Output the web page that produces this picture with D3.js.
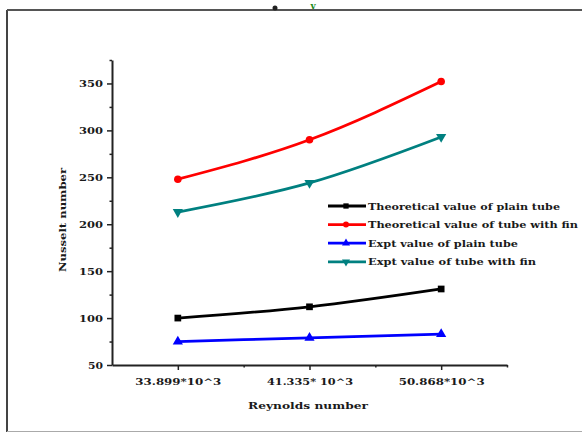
<!DOCTYPE html>
<html><head><meta charset="utf-8">
<script src="https://cdn.jsdelivr.net/npm/d3@7"></script>
<style>body{margin:0;background:#fff;} svg{display:block;} text{font-family:"DejaVu Serif",serif;font-weight:bold;fill:#1a1a1a;}</style>
</head><body><svg id="c" width="582" height="434"></svg>
<script>
const categories = ["33.899*10^3", "41.335* 10^3", "50.868*10^3"];
const theoPlain = [100, 112, 131];
const theoFin = [248, 290, 352];
const exptPlain = [75, 79, 83];
const exptFin = [213, 244, 293];
const yTicks = [50, 100, 150, 200, 250, 300, 350];
const seriesNames = ["Theoretical value of plain tube", "Theoretical value of tube with fin", "Expt value of plain tube", "Expt value of tube with fin"];
const seriesColors = ["#000000", "#ff0000", "#0000ff", "#008080"];
const seriesSymbols = [d3.symbolSquare, d3.symbolCircle, d3.symbolTriangle, d3.symbolTriangle];
const seriesRot = [0, 0, 0, 180];
const seriesData = [theoPlain, theoFin, exptPlain, exptFin];

const FONT = '"DejaVu Serif",serif';
const svg = d3.select("#c");
// outer frame
svg.append("line").attr("x1",7).attr("x2",7).attr("y1",10).attr("y2",432).attr("stroke","#444").attr("stroke-width",2);
svg.append("line").attr("x1",7).attr("x2",582).attr("y1",10).attr("y2",10).attr("stroke","#555").attr("stroke-width",2);
svg.append("line").attr("x1",7).attr("x2",582).attr("y1",431.5).attr("y2",431.5).attr("stroke","#aaa").attr("stroke-width",1);
// stray marks at top
svg.append("circle").attr("cx",275).attr("cy",8).attr("r",2.5).attr("fill","#222");
svg.append("text").attr("x",313).attr("y",9).attr("text-anchor","middle").style("font-size","9px").style("fill","#1a8a1a").text("v");

const x = d3.scaleLinear().domain([0.5, 3.5]).range([112, 507]);
const y = d3.scaleLinear().domain([50, 375]).range([365, 60]);

// Y axis
svg.append("g").attr("transform","translate(112,0)")
  .call(d3.axisLeft(y).tickValues(yTicks).tickSize(5).tickPadding(4).tickSizeOuter(0))
  .selectAll(".tick text").attr("textLength", d => d >= 100 ? 24 : 15).attr("lengthAdjust","spacingAndGlyphs");
svg.append("g").attr("transform","translate(112,0)")
  .call(d3.axisLeft(y).tickValues([75,125,175,225,275,325,375]).tickSize(2.5).tickFormat("").tickSizeOuter(0))
  .select(".domain").remove();
// X axis
svg.append("g").attr("transform","translate(0,365)")
  .call(d3.axisBottom(x).tickValues([1,2,3]).tickSize(5).tickPadding(8).tickFormat(d => categories[d-1]).tickSizeOuter(0))
  .selectAll(".tick text").attr("textLength", 86).attr("lengthAdjust","spacingAndGlyphs");
svg.append("g").attr("transform","translate(0,365)")
  .call(d3.axisBottom(x).tickValues([1.5,2.5,3.5]).tickSize(2.5).tickFormat("").tickSizeOuter(0))
  .select(".domain").remove();
svg.selectAll(".domain").attr("stroke","#222").attr("stroke-width",2);
svg.selectAll(".tick line").attr("stroke","#222").attr("stroke-width",1.5);
svg.selectAll(".tick text").style("font-size","10px").style("font-family",FONT).style("font-weight","bold").attr("fill","#1a1a1a");

// axis titles
svg.append("text").attr("x",308).attr("y",409).attr("text-anchor","middle").style("font-size","10px")
  .attr("textLength",120).attr("lengthAdjust","spacingAndGlyphs").text("Reynolds number");
svg.append("text").attr("transform","translate(66,220) rotate(-90)").attr("text-anchor","middle").style("font-size","10px")
  .attr("textLength",104).attr("lengthAdjust","spacingAndGlyphs").text("Nusselt number");

// series
const line = d3.line().x((d,i)=>x(i+1)).y(d=>y(d)).curve(d3.curveNatural);
seriesData.forEach((vals, k) => {
  svg.append("path").datum(vals).attr("d", line).attr("fill","none").attr("stroke",seriesColors[k]).attr("stroke-width",2.8);
  svg.selectAll(null).data(vals).enter().append("path")
    .attr("d", d3.symbol().type(seriesSymbols[k]).size(45))
    .attr("transform",(d,i)=>`translate(${x(i+1)},${y(d)}) rotate(${seriesRot[k]})`)
    .attr("fill",seriesColors[k]);
});

// legend
const legendLens = [192, 210, 150, 168];
const lg = svg.append("g");
seriesNames.forEach((n,k) => {
  const yy = 206 + k*18.6;
  lg.append("line").attr("x1",328).attr("x2",366).attr("y1",yy).attr("y2",yy).attr("stroke",seriesColors[k]).attr("stroke-width",2.8);
  lg.append("path").attr("d", d3.symbol().type(seriesSymbols[k]).size(28))
    .attr("transform",`translate(346,${yy}) rotate(${seriesRot[k]})`).attr("fill",seriesColors[k]);
  lg.append("text").attr("x",368).attr("y",yy+3.5).style("font-size","10px")
    .attr("textLength",legendLens[k]).attr("lengthAdjust","spacingAndGlyphs").text(n);
});
</script></body></html>
